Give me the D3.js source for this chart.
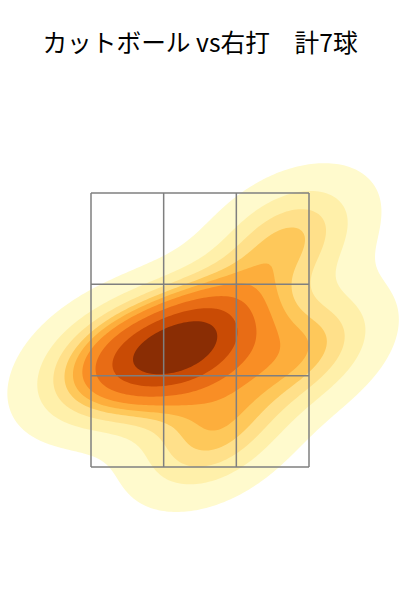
<!DOCTYPE html>
<html>
<head>
<meta charset="utf-8">
<title>カットボール vs右打</title>
<script src="https://d3js.org/d3.v7.min.js"></script>
<style>
*{margin:0;padding:0;}
body{background:#fff;}
</style>
</head>
<body>
<svg id="chart" width="400" height="600"></svg>
<script>
var title = "カットボール vs右打\u3000計7球";
// pitch locations (ft), catcher view
var plateX = [-0.31, -0.11, 0.09, -0.71, 0.77, 0.64, 0.10];
var plateZ = [2.31, 2.40, 2.45, 2.27, 2.35, 3.16, 1.73];
var bwAdjust = 1;
var zoneX = [-0.8, 0.8];
var zoneZ = [1.5, 3.5];
var isoProps = d3.range(10).map(function(i){ return 0.05 + i * 0.95 / 9; });
var palette = ["#fffacd", "#fff0aa", "#ffe08a", "#fec85a", "#fdae3c",
               "#f98e25", "#e86c15", "#c94b05", "#8a2d04"];

var svg = d3.select("#chart");
var x = d3.scaleLinear().domain(zoneX).range([91, 309]);
var y = d3.scaleLinear().domain(zoneZ).range([467, 193]);

// gaussian kde, scott factor, full covariance (like scipy)
var n = plateX.length;
var mx = d3.mean(plateX), mz = d3.mean(plateZ);
var sxx = 0, szz = 0, sxz = 0;
for (var i = 0; i < n; i++) {
	var ax = plateX[i] - mx, az = plateZ[i] - mz;
	sxx += ax * ax; szz += az * az; sxz += ax * az;
}
var f2 = Math.pow(n, -1 / 3) * bwAdjust * bwAdjust / (n - 1);
var cxx = sxx * f2, czz = szz * f2, cxz = sxz * f2;
var det = cxx * czz - cxz * cxz;
var ixx = czz / det, izz = cxx / det, ixz = -cxz / det;

function dens(px, pz) {
	var s = 0;
	for (var k = 0; k < n; k++) {
		var dx = px - plateX[k], dz = pz - plateZ[k];
		s += Math.exp(-0.5 * (dx * dx * ixx + 2 * dx * dz * ixz + dz * dz * izz));
	}
	return s / (n * 2 * Math.PI * Math.sqrt(det));
}

var nx = 240, nz = 320;
var gx0 = x.invert(-100), gx1 = x.invert(500);
var gz0 = y.invert(-100), gz1 = y.invert(700);
var sx = (gx1 - gx0) / nx, sz = (gz1 - gz0) / nz;
var values = new Array(nx * nz);
for (var j = 0; j < nz; j++) {
	for (var i = 0; i < nx; i++) {
		values[i + j * nx] = dens(gx0 + (i + 0.5) * sx, gz0 + (j + 0.5) * sz);
	}
}

// iso-proportion levels
var sorted = values.slice().sort(function(a, b){ return b - a; });
var total = d3.sum(sorted);
var cum = [], acc = 0;
sorted.forEach(function(v){ acc += v; cum.push(acc / total); });
var levels = isoProps.map(function(p){
	var idx = d3.bisectLeft(cum, 1 - p);
	return sorted[Math.min(idx, sorted.length - 1)];
});

var contours = d3.contours().size([nx, nz]).thresholds(levels.slice(0, 9))(values);

var path = d3.geoPath(d3.geoTransform({
	point: function(gx, gy) {
		this.stream.point(x(gx0 + gx * sx), y(gz0 + gy * sz));
	}
}));

svg.append("g")
	.selectAll("path")
	.data(contours)
	.enter().append("path")
	.attr("d", path)
	.attr("fill", function(d, i){ return palette[i]; });

// strike zone 3x3
var xs = d3.range(4).map(function(i){ return zoneX[0] + i * (zoneX[1] - zoneX[0]) / 3; });
var zs = d3.range(4).map(function(i){ return zoneZ[0] + i * (zoneZ[1] - zoneZ[0]) / 3; });
var zone = svg.append("g").attr("stroke", "#7f7f7f").attr("stroke-width", 1.5).attr("fill", "none");
zone.selectAll("line.v").data(xs).enter().append("line")
	.attr("x1", function(d){ return x(d); }).attr("x2", function(d){ return x(d); })
	.attr("y1", y(zoneZ[0])).attr("y2", y(zoneZ[1]));
zone.selectAll("line.h").data(zs).enter().append("line")
	.attr("y1", function(d){ return y(d); }).attr("y2", function(d){ return y(d); })
	.attr("x1", x(zoneX[0])).attr("x2", x(zoneX[1]));

svg.append("text")
	.attr("x", 200).attr("y", 52)
	.attr("text-anchor", "middle")
	.attr("font-family", "'Noto Sans CJK JP', 'Noto Sans', sans-serif")
	.attr("font-size", 24.7)
	.text(title);
</script>
</body>
</html>
